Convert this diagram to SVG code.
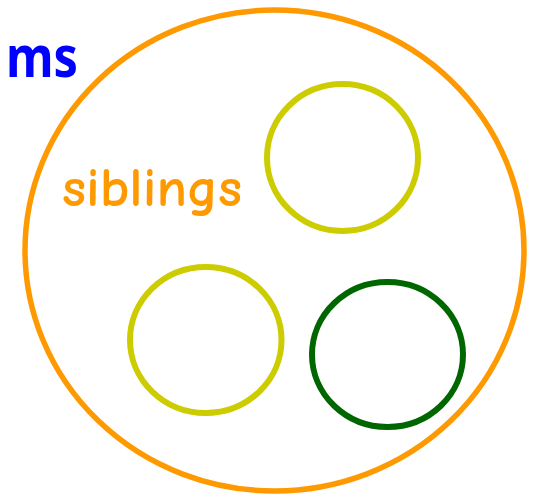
<svg xmlns="http://www.w3.org/2000/svg" width="533" height="495" viewBox="0 0 533 495">
<style>
.ring{fill:none}
.outer{stroke:#ff9900;stroke-width:5.5}
.yel{stroke:#cccc00;stroke-width:6}
.grn{stroke:#006600;stroke-width:6}
.title{font-family:"Noto Sans","DejaVu Sans",sans-serif;font-weight:bold;fill:#0000ff;font-size:58px}
.lbl{font-family:"Comic Sans MS","Comic Neue","Noto Sans",sans-serif;font-weight:600;fill:#ff9900;font-size:54px}
</style>
<rect width="533" height="495" fill="#ffffff"/>
<g id="ms-label"><text class="title" x="6" y="77" textLength="72" lengthAdjust="spacingAndGlyphs">ms</text></g>
<g id="siblings">
<ellipse class="ring outer" cx="274.5" cy="250.5" rx="249.5" ry="240.5"/>
<text class="lbl" x="62" y="206" textLength="180" lengthAdjust="spacingAndGlyphs">siblings</text>
</g>
<g id="child1"><ellipse class="ring yel" cx="342.5" cy="157.5" rx="75.5" ry="73.5"/></g>
<g id="child2"><ellipse class="ring yel" cx="205.75" cy="340" rx="75.75" ry="73"/></g>
<g id="child3"><ellipse class="ring grn" cx="387.5" cy="354.5" rx="75.5" ry="72.5"/></g>
<g id="connectors"></g>
</svg>
